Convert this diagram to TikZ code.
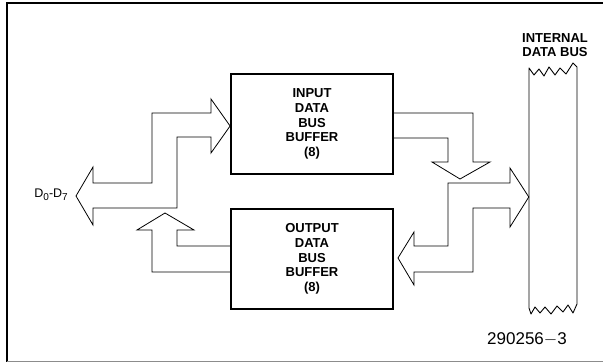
\documentclass[tikz,border=0pt]{standalone}
\usepackage{fontspec}
\setmainfont{Liberation Sans}
\usetikzlibrary{positioning}
\tikzset{
  frame/.style={line width=1.6pt, line cap=rect},
  buffer/.style={
    draw,
    line width=1.8pt,
    minimum width=162pt,
    minimum height=100pt,
    inner sep=0pt,
    align=center,
    font=\fontsize{13}{14.8}\selectfont\bfseries
  },
  busarrow/.style={line width=0.8pt, line join=miter},
  busside/.style={line width=0.9pt, line join=round},
  lbl/.style={inner sep=0pt, align=center}
}
\newcommand{\dsub}[1]{{\fontsize{10}{10}\selectfont\raisebox{-2.5pt}{#1}}}

\begin{document}
\begin{tikzpicture}[x=1pt,y=-1pt]
  \useasboundingbox (0,0) rectangle (603,363);
  % frame
  \draw[frame] (7,361) -- (7,3) -- (603,3);
  \draw[line width=0.8pt, black!45] (7,361) -- (603,361);

  % buffers
  \node[buffer] (inbuf) at (312,124) {INPUT\\DATA\\BUS\\BUFFER\\(8)};
  \node[buffer] (outbuf) at (312,259) {OUTPUT\\DATA\\BUS\\BUFFER\\(8)};

  % internal bus
  \node[minimum width=48pt, minimum height=240pt, inner sep=0pt] (bus) at (553,188) {};
  \node[lbl, font=\fontsize{13}{14.5}\selectfont\bfseries] (buslbl) at (555,45) {INTERNAL\\DATA BUS};
  \draw[busside] (529,308) -- (529,68) -- (534,75) -- (539,69) -- (544,76) -- (549,67)
    -- (555,75) -- (560,68) -- (566,74) -- (573,63) -- (577,67) -- (577,304)
    -- (573,313) -- (568,305) -- (563,312) -- (557,306) -- (551,314) -- (545,307)
    -- (540,313) -- (535,307) -- (531,314) -- cycle;

  % pins
  \node[lbl, anchor=east, font=\fontsize{12.5}{12.5}\selectfont] (dpins) at (68,195)
    {D\dsub{0}-D\dsub{7}};
  \node[lbl, font=\fontsize{17}{17}\selectfont] (code) at (527,339) {290256$-$3};

  % D0-D7 <-> input buffer
  \draw[busarrow] (76,196) -- (93,167) -- (93,183) -- (152,183) -- (152,113)
    -- (211,113) -- (211,99) -- (inbuf.west |- 0,126) -- (211,153) -- (211,137)
    -- (177,137) -- (177,208) -- (93,208) -- (93,225) -- cycle;
  % output buffer -> D0-D7
  \draw[busarrow] (outbuf.west |- 0,272) -- (152,272) -- (152,230) -- (137,230)
    -- (165,213) -- (194,230) -- (177,230) -- (177,246) -- (outbuf.west |- 0,246);
  % input buffer -> internal bus
  \draw[busarrow] (inbuf.east |- 0,113) -- (473,113) -- (473,162) -- (490,162)
    -- (460,179) -- (432,162) -- (448,162) -- (448,138) -- (inbuf.east |- 0,138);
  % internal bus <-> output buffer
  \draw[busarrow] (bus.west |- 0,197) -- (510,227) -- (510,208) -- (473,208)
    -- (473,272) -- (414,272) -- (414,285) -- (398,258) -- (414,232) -- (414,246)
    -- (448,246) -- (448,183) -- (510,183) -- (510,168) -- cycle;
\end{tikzpicture}
\end{document}
